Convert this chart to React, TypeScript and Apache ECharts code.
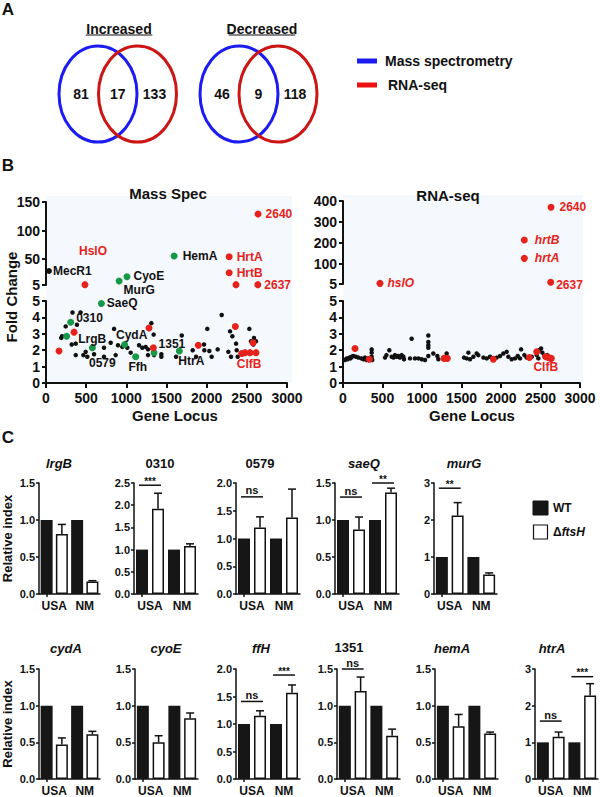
import React, { useEffect, useRef } from 'react';
import * as echarts from 'echarts';

const FONT = '"Liberation Sans", Arial, Helvetica, sans-serif';
const BLUE = '#1c1cf2';
const RED_VENN = '#cc1616';
const RED = '#e5231b';
const GREEN = '#17994a';
const BLACK = '#111111';
const BG = '#f5f8fc';

// ---------------- Panel A data ----------------
const vennIncreased = [81, 17, 133];
const vennDecreased = [46, 9, 118];
const vennTitles = ['Increased', 'Decreased'];
const vennLegend = ['Mass spectrometry', 'RNA-seq'];

// ---------------- Panel B data ----------------
// [gene locus, fold change, label]
type Pt = [number, number, string?];
const msBlack: Pt[] = [
  [37, 29.5, 'MecR1'],
  [330, 4.3], [430, 4.3], [245, 3.45], [200, 2.85], [190, 2.75], [385, 3.55], [320, 2.35], [370, 2.4],
  [370, 1.7], [465, 1.7], [494, 1.9], [514, 1.6], [598, 1.75], [722, 2.15], [722, 1.6], [805, 2.45],
  [847, 3.3], [867, 1.7], [896, 2.3], [950, 2.2], [1012, 2.15], [1054, 1.85], [1104, 1.6], [1158, 2.3],
  [1199, 2.15], [1241, 2.2], [1270, 2.05], [1270, 1.7], [1311, 3.65], [1340, 2.95], [1345, 1.7],
  [1436, 1.75], [1436, 1.6], [1690, 2.9], [1619, 1.6], [1826, 2.0], [1868, 1.6], [1967, 2.35],
  [1971, 2.0], [2008, 3.3], [2033, 1.95], [2062, 1.6], [2137, 2.05], [2187, 4.15], [2270, 1.9],
  [2291, 3.15], [2320, 2.85], [2303, 1.6], [2366, 2.4], [2374, 2.0], [2386, 1.6], [2531, 3.3],
  [2552, 2.55], [2589, 2.75], [2614, 2.55], [2581, 2.35],
];
const msGreen: Pt[] = [
  [1595, 55.7, 'HemA'], [1008, 19.5, 'CyoE'], [910, 12, 'MurG'], [689, 4.85, 'SaeQ'], [307, 3.7, '0310'],
  [257, 2.85, 'LrgB'], [577, 2.15, '0579'], [979, 2.35, 'CydA'], [1117, 1.6, 'Ffh'], [1345, 1.85, '1351'],
  [1660, 1.95, 'HtrA'],
];
const msRed: Pt[] = [
  [2640, 129, '2640'], [2280, 54.5, 'HrtA'], [2280, 26.5, 'HrtB'], [2637, 5.6, '2637'], [2365, 5.6],
  [485, 5.6, 'HslO'], [162, 1.95], [349, 3.1], [1282, 3.35], [1336, 2.15], [1896, 2.3], [2357, 3.45],
  [2577, 2.45], [2436, 1.8], [2477, 1.85], [2540, 1.85, 'ClfB'], [2614, 1.85],
];
const rnaBlack: Pt[] = [
  [25, 1.4], [46, 1.5], [60, 1.45], [80, 1.55], [95, 1.5], [110, 1.6], [130, 1.65], [165, 1.6], [194, 1.55],
  [232, 1.5], [260, 1.45], [278, 1.55], [300, 1.4], [321, 1.5], [345, 1.45], [363, 1.85], [363, 2.05],
  [363, 1.6], [370, 1.4], [532, 1.55], [550, 1.7], [586, 2.0], [616, 1.6], [640, 1.55], [658, 1.7],
  [680, 1.6], [700, 1.65], [720, 1.55], [743, 1.7], [764, 1.6], [772, 1.45], [848, 1.5], [869, 2.7],
  [911, 1.5], [954, 1.5], [996, 1.45], [1038, 1.4], [1080, 2.9], [1080, 2.5], [1080, 2.3], [1080, 2.15],
  [1080, 1.65], [1143, 1.8], [1194, 1.65], [1207, 1.45], [1312, 1.8], [1532, 1.55], [1565, 1.5],
  [1587, 1.85], [1608, 1.45], [1650, 1.6], [1692, 1.8], [1713, 1.7], [1777, 1.55], [1819, 1.5],
  [1861, 1.6], [1945, 1.55], [1988, 1.65], [2030, 1.8], [2072, 1.9], [2093, 1.6], [2135, 1.45],
  [2178, 1.5], [2212, 1.65], [2241, 1.5], [2254, 2.05], [2296, 1.7], [2325, 1.55], [2389, 1.6],
  [2452, 1.7], [2473, 1.5], [2481, 2.0], [2507, 2.1], [2524, 1.85], [2549, 1.65], [2585, 1.7],
  [2610, 1.6], [2634, 1.5], [2620, 1.45],
];
const rnaRed: Pt[] = [
  [2633, 370, '2640'], [2295, 214, 'hrtB'], [2295, 127, 'hrtA'], [2629, 13, '2637'], [468, 8, 'hslO'],
  [152, 2.1], [333, 1.45], [1279, 1.5], [1320, 1.5], [1903, 1.45], [2359, 1.55], [2452, 1.9],
  [2566, 1.6, 'ClfB'], [2600, 1.55], [2637, 1.5],
];
const msUpperTicks = [5, 50, 100, 150];
const rnaUpperTicks = [5, 100, 200, 300, 400];
const bPanelTitles = ['Mass Spec', 'RNA-seq'];

// ---------------- Panel C data ----------------
const cGenes = ['lrgB', '0310', '0579', 'saeQ', 'murG', 'cydA', 'cyoE', 'ffH', '1351', 'hemA', 'htrA'];
const cGroups = ['USA', 'NM'];
const wtUSA = [1, 1, 1, 1, 1, 1, 1, 1, 1, 1, 1];
const wtNM = [1, 1, 1, 1, 1, 1, 1, 1, 1, 1, 1];
const mutUSA = [0.81, 1.92, 1.2, 0.87, 2.12, 0.47, 0.5, 1.15, 1.2, 0.72, 1.15];
const mutUSAErrTop = [0.94, 2.27, 1.39, 1.04, 2.47, 0.56, 0.59, 1.24, 1.39, 0.88, 1.28];
const mutNM = [0.17, 1.08, 1.38, 1.37, 0.53, 0.61, 0.83, 1.57, 0.59, 0.62, 2.28];
const mutNMErrTop = [0.18, 1.13, 1.89, 1.43, 0.57, 0.65, 0.9, 1.71, 0.68, 0.64, 2.6];
const cYMax = [1.5, 2.5, 2.0, 1.5, 3, 1.5, 1.5, 2.0, 1.5, 1.5, 3];
const cYStep = [0.5, 0.5, 0.5, 0.5, 1, 0.5, 0.5, 0.5, 0.5, 0.5, 1];
// [panel index, group index (0 USA, 1 NM), level, text]
const sigMarks: [number, number, number, string][] = [
  [1, 0, 2.45, '***'], [2, 0, 1.75, 'ns'], [3, 0, 1.31, 'ns'], [3, 1, 1.5, '**'], [4, 0, 2.86, '**'],
  [7, 0, 1.41, 'ns'], [7, 1, 1.89, '***'], [8, 0, 1.5, 'ns'], [10, 0, 1.58, 'ns'], [10, 1, 2.79, '***'],
];

// ---------------- Layout (styles / positions) ----------------
const cItalic = [true, false, false, true, true, true, true, true, false, true, true];
const cLayout = [
  { left: 38, top: 483, width: 62, height: 111, tx: 59, ty: 463 },
  { left: 134, top: 483, width: 64, height: 111, tx: 160, ty: 463 },
  { left: 236, top: 483, width: 64, height: 111, tx: 260, ty: 463 },
  { left: 335, top: 483, width: 64, height: 111, tx: 364, ty: 463 },
  { left: 434, top: 483, width: 63, height: 111, tx: 464, ty: 463 },
  { left: 37, top: 669, width: 63, height: 112, tx: 66, ty: 648 },
  { left: 135, top: 669, width: 63, height: 112, tx: 166, ty: 648 },
  { left: 236, top: 669, width: 64, height: 112, tx: 261, ty: 648 },
  { left: 337, top: 669, width: 63, height: 112, tx: 349, ty: 647 },
  { left: 435, top: 669, width: 63, height: 112, tx: 452, ty: 648 },
  { left: 535, top: 669, width: 63, height: 112, tx: 552, ty: 648 },
];
const msLabelPlace: Record<string, { pos: string; off: [number, number] }> = {
  MecR1: { pos: 'right', off: [-4, 0] },
  HslO: { pos: 'top', off: [8, -19] },
  HemA: { pos: 'right', off: [0, 0] },
  CyoE: { pos: 'right', off: [-2, -1] },
  MurG: { pos: 'right', off: [-4, 9] },
  SaeQ: { pos: 'right', off: [-3, 0] },
  '0310': { pos: 'right', off: [-3, -4] },
  LrgB: { pos: 'right', off: [3, 3] },
  '0579': { pos: 'bottom', off: [10, 1] },
  CydA: { pos: 'top', off: [7, 5] },
  Ffh: { pos: 'bottom', off: [2, -4] },
  '1351': { pos: 'right', off: [-4, -9] },
  HtrA: { pos: 'bottom', off: [12, -5] },
  ClfB: { pos: 'bottom', off: [-1, -3] },
  HrtA: { pos: 'right', off: [-1, 0] },
  HrtB: { pos: 'right', off: [-1, 0] },
  '2640': { pos: 'right', off: [-1, 0] },
  '2637': { pos: 'right', off: [-2, 0] },
};
const rnaLabelPlace: Record<string, { pos: string; off: [number, number] }> = {
  '2640': { pos: 'right', off: [0, 0] },
  hrtB: { pos: 'right', off: [2, 0] },
  hrtA: { pos: 'right', off: [2, 0] },
  hslO: { pos: 'right', off: [-1, 0] },
  '2637': { pos: 'right', off: [-3, 3] },
  ClfB: { pos: 'bottom', off: [0, -4] },
};
const rnaItalicLabels = ['hrtB', 'hrtA', 'hslO'];

function buildOption() {
  const grids: any[] = [];
  const xAxes: any[] = [];
  const yAxes: any[] = [];
  const series: any[] = [];
  const graphics: any[] = [];

  const txt = (text: string, x: number, y: number, size: number, extra: any = {}) => ({
    type: 'text',
    x,
    y,
    z: 10,
    style: {
      text,
      x: 0,
      y: 0,
      fill: extra.fill || BLACK,
      fontFamily: FONT,
      fontWeight: 'bold',
      fontSize: size,
      fontStyle: extra.italic ? 'italic' : 'normal',
      align: extra.align || 'center',
      verticalAlign: 'middle',
    },
    rotation: extra.rotation || 0,
  });

  // ---------- Panel A ----------
  graphics.push(txt('A', 8, 9, 17));
  const venns = [
    { data: vennIncreased, bx: 98, rx2: 137.5, title: vennTitles[0], tx: 119 },
    { data: vennDecreased, bx: 239, rx2: 278, title: vennTitles[1], tx: 262 },
  ];
  venns.forEach((v) => {
    graphics.push({
      type: 'ellipse',
      shape: { cx: v.bx, cy: 94, rx: 39, ry: 48 },
      style: { fill: 'none', stroke: BLUE, lineWidth: 3 },
    });
    graphics.push({
      type: 'ellipse',
      shape: { cx: v.rx2, cy: 94, rx: 39, ry: 48 },
      style: { fill: 'none', stroke: RED_VENN, lineWidth: 3 },
    });
    graphics.push(txt(v.title, v.tx, 29, 14));
    const w = v.title.length * 7.4;
    graphics.push({
      type: 'line',
      shape: { x1: v.tx - w / 2, y1: 35, x2: v.tx + w / 2, y2: 35 },
      style: { stroke: BLACK, lineWidth: 1.2 },
    });
    graphics.push(txt(String(v.data[0]), v.bx - 17, 94, 14));
    graphics.push(txt(String(v.data[1]), (v.bx + v.rx2) / 2, 94, 14));
    graphics.push(txt(String(v.data[2]), v.rx2 + 17, 94, 14));
  });
  graphics.push({ type: 'line', shape: { x1: 357, y1: 61, x2: 377, y2: 61 }, style: { stroke: BLUE, lineWidth: 5 } });
  graphics.push({ type: 'line', shape: { x1: 357, y1: 85, x2: 377, y2: 85 }, style: { stroke: '#ee1111', lineWidth: 5 } });
  graphics.push(txt(vennLegend[0], 385, 61, 14, { align: 'left' }));
  graphics.push(txt(vennLegend[1], 388, 85, 14, { align: 'left' }));

  // ---------- Panel B ----------
  graphics.push(txt('B', 8, 165, 17));
  graphics.push({ type: 'rect', z: -10, shape: { x: 46, y: 196, width: 246, height: 187 }, style: { fill: BG } });
  graphics.push({ type: 'rect', z: -10, shape: { x: 343, y: 195, width: 240, height: 188 }, style: { fill: BG } });
  graphics.push(txt(bPanelTitles[0], 168, 193, 15));
  graphics.push(txt(bPanelTitles[1], 448, 195, 15));
  graphics.push(txt('Fold Change', 11, 297, 15, { rotation: Math.PI / 2 }));
  graphics.push(txt('Gene Locus', 175, 415, 15));
  graphics.push(txt('Gene Locus', 472, 415, 15));

  const axisLineB = { show: true, lineStyle: { color: BLACK, width: 2 } };
  const tickB = { show: true, length: 4, lineStyle: { color: BLACK, width: 2 } };
  const labelB = { color: BLACK, fontFamily: FONT, fontWeight: 'bold', fontSize: 14 };

  const bPanels = [
    { left: 46, width: 241, upperTop: 202, upperH: 83, upperMax: 150, ticks: msUpperTicks },
    { left: 343, width: 237, upperTop: 201, upperH: 83, upperMax: 400, ticks: rnaUpperTicks },
  ];
  bPanels.forEach((p) => {
    const gu = grids.length;
    grids.push({ left: p.left, top: p.upperTop, width: p.width, height: p.upperH });
    grids.push({ left: p.left, top: 301, width: p.width, height: 82 });
    xAxes.push({ gridIndex: gu, type: 'value', min: 0, max: 3000, interval: 500, show: false });
    xAxes.push({
      gridIndex: gu + 1, type: 'value', min: 0, max: 3000, interval: 500,
      axisLine: axisLineB, axisTick: { ...tickB, length: 5 }, splitLine: { show: false },
      axisLabel: { ...labelB, margin: 8, formatter: (v: number) => String(v) },
    });
    yAxes.push({
      gridIndex: gu, type: 'value', min: 5, max: p.upperMax,
      axisLine: axisLineB,
      axisTick: { ...tickB, customValues: p.ticks },
      axisLabel: { ...labelB, margin: 6, customValues: p.ticks },
      splitLine: { show: false },
    });
    yAxes.push({
      gridIndex: gu + 1, type: 'value', min: 0, max: 5, interval: 1,
      axisLine: axisLineB, axisTick: tickB, axisLabel: { ...labelB, margin: 6 }, splitLine: { show: false },
    });
  });

  const mkPts = (
    list: Pt[], upper: boolean, labelColor: string,
    place: Record<string, { pos: string; off: [number, number] }>, italic: string[] = [],
  ) =>
    list
      .filter((p) => (upper ? p[1] > 5 : p[1] <= 5))
      .map((p) => {
        const name = p[2] || '';
        const pl = place[name];
        return {
          value: [p[0], p[1]],
          label: name
            ? {
                show: true,
                formatter: name,
                position: pl ? pl.pos : 'right',
                offset: pl ? pl.off : [0, 0],
                distance: 5,
                color: labelColor,
                fontFamily: FONT,
                fontWeight: 'bold',
                fontSize: 12,
                fontStyle: italic.includes(name) ? 'italic' : 'normal',
              }
            : { show: false },
        };
      });

  const scatter = (grid: number, data: any[], color: string, size: number, z = 3) => ({
    type: 'scatter',
    xAxisIndex: grid,
    yAxisIndex: grid,
    data,
    symbolSize: size,
    itemStyle: { color, opacity: 1 },
    z,
    clip: false,
  });
  // mass spec (grid 0 upper, 1 lower)
  series.push(scatter(0, mkPts(msBlack, true, BLACK, msLabelPlace), BLACK, 6));
  series.push(scatter(1, mkPts(msBlack, false, BLACK, msLabelPlace), BLACK, 4.5));
  series.push(scatter(0, mkPts(msGreen, true, BLACK, msLabelPlace), GREEN, 7, 4));
  series.push(scatter(1, mkPts(msGreen, false, BLACK, msLabelPlace), GREEN, 7, 4));
  series.push(scatter(0, mkPts(msRed, true, RED, msLabelPlace), RED, 7, 4));
  series.push(scatter(1, mkPts(msRed, false, RED, msLabelPlace), RED, 7, 4));
  // RNA-seq (grid 2 upper, 3 lower)
  series.push(scatter(3, mkPts(rnaBlack, false, BLACK, rnaLabelPlace), BLACK, 4.5));
  series.push(scatter(2, mkPts(rnaRed, true, RED, rnaLabelPlace, rnaItalicLabels), RED, 7, 4));
  series.push(scatter(3, mkPts(rnaRed, false, RED, rnaLabelPlace, rnaItalicLabels), RED, 7, 4));

  // ---------- Panel C ----------
  graphics.push(txt('C', 8, 437, 17));
  const lineC = { color: BLACK, width: 1.5 };
  const labelC = { color: BLACK, fontFamily: FONT, fontWeight: 'bold', fontSize: 11 };

  cGenes.forEach((gene, i) => {
    const L = cLayout[i];
    const gi = grids.length;
    grids.push({ left: L.left, top: L.top, width: L.width, height: L.height });
    const xb = xAxes.length;
    xAxes.push({
      gridIndex: gi, type: 'category', position: 'bottom',
      data: ['USA WT', 'USA ΔftsH', 'NM WT', 'NM ΔftsH'],
      axisLine: { lineStyle: lineC },
      axisTick: { show: true, alignWithLabel: true, length: 3, lineStyle: lineC },
      axisLabel: { show: false },
    });
    xAxes.push({
      gridIndex: gi, type: 'category', position: 'bottom', data: cGroups,
      axisLine: { show: false }, axisTick: { show: false },
      axisLabel: { ...labelC, fontSize: 12, margin: 6, interval: 0 },
    });
    const yi = yAxes.length;
    const step = cYStep[i];
    const firstInRow = i === 0 || i === 5;
    yAxes.push({
      gridIndex: gi, type: 'value', min: 0, max: cYMax[i], interval: step,
      axisLine: { show: true, lineStyle: lineC },
      axisTick: { show: true, length: 3, lineStyle: lineC },
      axisLabel: { ...labelC, margin: 4, formatter: (v: number) => (step < 1 ? v.toFixed(1) : String(v)) },
      splitLine: { show: false },
      name: firstInRow ? 'Relative index' : '',
      nameLocation: 'middle',
      nameGap: 25,
      nameTextStyle: { color: BLACK, fontFamily: FONT, fontWeight: 'bold', fontSize: 13 },
    });
    graphics.push(txt(gene, L.tx, L.ty, 13, { italic: cItalic[i] }));

    series.push({
      type: 'bar', name: 'WT', xAxisIndex: xb, yAxisIndex: yi,
      data: [wtUSA[i], '-', wtNM[i], '-'], barWidth: 12,
      itemStyle: { color: '#161616' },
    });
    series.push({
      type: 'bar', name: 'ΔftsH', xAxisIndex: xb, yAxisIndex: yi,
      data: ['-', mutUSA[i], '-', mutNM[i]], barWidth: 12, barGap: '-100%',
      itemStyle: { color: '#ffffff', borderColor: BLACK, borderWidth: 1.5 },
    });
    series.push({
      type: 'custom', xAxisIndex: xb, yAxisIndex: yi, z: 5, clip: false,
      data: [[1, mutUSA[i], mutUSAErrTop[i]], [3, mutNM[i], mutNMErrTop[i]]],
      renderItem: (_p: any, api: any) => {
        const a = api.coord([api.value(0), api.value(1)]);
        const b = api.coord([api.value(0), api.value(2)]);
        return {
          type: 'group',
          children: [
            { type: 'line', shape: { x1: a[0], y1: a[1], x2: b[0], y2: b[1] }, style: { stroke: BLACK, lineWidth: 1.5 } },
            { type: 'line', shape: { x1: b[0] - 4, y1: b[1], x2: b[0] + 4, y2: b[1] }, style: { stroke: BLACK, lineWidth: 1.5 } },
          ],
        };
      },
    });
    const marks = sigMarks.filter((s) => s[0] === i);
    if (marks.length) {
      series.push({
        type: 'custom', xAxisIndex: xb, yAxisIndex: yi, z: 6, clip: false,
        data: marks.map((m) => [m[1] * 2, m[1] * 2 + 1, m[2]]),
        renderItem: (p: any, api: any) => {
          const a = api.coord([api.value(0), api.value(2)]);
          const b = api.coord([api.value(1), api.value(2)]);
          const label = marks[p.dataIndex][3];
          const isNs = label === 'ns';
          return {
            type: 'group',
            children: [
              { type: 'line', shape: { x1: a[0] - 3, y1: a[1], x2: b[0] + 3, y2: b[1] }, style: { stroke: BLACK, lineWidth: 1.5 } },
              {
                type: 'text',
                style: {
                  text: label, x: (a[0] + b[0]) / 2, y: a[1] - (isNs ? 1 : -1),
                  align: 'center', verticalAlign: 'bottom', fill: BLACK,
                  fontFamily: FONT, fontWeight: 'bold', fontSize: isNs ? 11 : 10,
                },
              },
            ],
          };
        },
      });
    }
  });

  // legend of panel C
  graphics.push({ type: 'rect', shape: { x: 533, y: 501, width: 15, height: 14 }, style: { fill: '#161616', stroke: BLACK, lineWidth: 1 } });
  graphics.push({ type: 'rect', shape: { x: 533.5, y: 525, width: 14, height: 14 }, style: { fill: '#fff', stroke: BLACK, lineWidth: 1.2 } });
  graphics.push(txt('WT', 553, 508, 12, { align: 'left' }));
  graphics.push({
    type: 'text', x: 553, y: 532, z: 10,
    style: {
      text: '{a|Δ}{b|ftsH}', x: 0, y: 0, align: 'left', verticalAlign: 'middle',
      rich: {
        a: { fontFamily: FONT, fontWeight: 'bold', fontSize: 12, fill: BLACK },
        b: { fontFamily: FONT, fontWeight: 'bold', fontStyle: 'italic', fontSize: 12, fill: BLACK },
      },
    },
  });

  return {
    animation: false,
    backgroundColor: '#ffffff',
    grid: grids,
    xAxis: xAxes,
    yAxis: yAxes,
    series,
    graphic: { elements: graphics },
  };
}

export default function App() {
  const ref = useRef<HTMLDivElement>(null);
  useEffect(() => {
    document.body.style.margin = '0';
    if (!ref.current) return;
    const chart = echarts.init(ref.current, undefined, { renderer: 'svg' });
    chart.setOption(buildOption() as any);
    return () => chart.dispose();
  }, []);
  return <div ref={ref} style={{ width: 600, height: 797 }} />;
}
